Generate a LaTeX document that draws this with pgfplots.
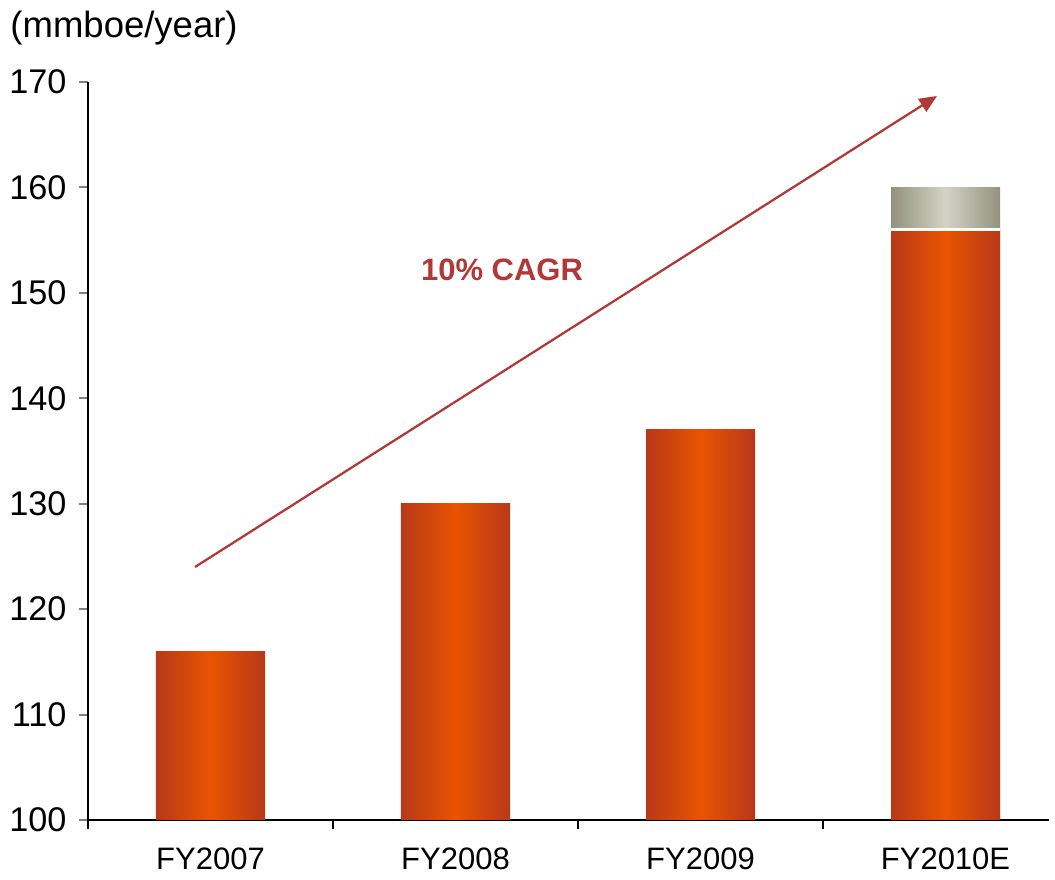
\documentclass[border=0pt]{standalone}
\usepackage{fontspec}
\setmainfont{Liberation Sans}
\usepackage{pgfplots}
\pgfplotsset{compat=1.18}
\usetikzlibrary{arrows.meta}

\definecolor{barEdge}{RGB}{184,56,26}
\definecolor{barMid}{RGB}{232,84,0}
\definecolor{greyEdge}{RGB}{146,146,126}
\definecolor{greyMid}{RGB}{212,212,198}
\definecolor{cagrRed}{RGB}{178,55,55}

\newcommand{\chartfont}{\fontsize{12.4pt}{14pt}\selectfont}

\begin{document}
\begin{tikzpicture}
\begin{axis}[
  scale only axis,
  width=384.4pt, height=295.2pt,
  xmin=-0.5, xmax=3.4224,
  ymin=100, ymax=170,
  ytick={100,110,...,170},
  xtick={0,1,2,3},
  xticklabels={FY2007,FY2008,FY2009,FY2010E},
  xtick style={draw=none},
  extra x ticks={-0.5,0.5,1.5,2.5},
  extra x tick labels={},
  extra x tick style={xtick style={draw=black, line width=0.8pt}},
  axis x line*=bottom,
  axis y line*=left,
  axis line style={line width=0.8pt, -},
  ytick style={line width=0.8pt},
  tick align=outside,
  major tick length=3.6pt,
  xticklabel style={font=\chartfont, yshift=-4pt},
  yticklabel style={font=\fontsize{13.7pt}{15pt}\selectfont, xshift=-1.5pt},
  /pgf/number format/assume math mode=true,
  ybar, bar shift=0pt,
  bar width=0.445,
  clip=false,
  every axis plot/.append style={draw=none, left color=barEdge, right color=barEdge, middle color=barMid},
]
% grey top segment (156 -> 160), drawn first as a full bar
\addplot[left color=greyEdge, right color=greyEdge, middle color=greyMid] coordinates {(3,160)};
\addplot coordinates {(0,116)};
\addplot coordinates {(1,130)};
\addplot coordinates {(2,137)};
\addplot coordinates {(3,156)};
\addplot[sharp plot, draw=white, line width=0.9pt, shading=none, fill=none] coordinates {(2.7775,156) (3.2225,156)};

\draw[cagrRed, line width=0.9pt, -{Triangle[length=7pt, width=6pt]}]
  (axis cs:-0.063,124.0) -- (axis cs:2.965,168.67);
\node[text=cagrRed, font=\chartfont\bfseries] at (axis cs:1.19,152.2) {10\% CAGR};
\node[anchor=base west, font=\fontsize{14.6pt}{17pt}\selectfont, inner sep=0pt]
  at ([xshift=-31.2pt, yshift=17.6pt]rel axis cs:0,1) {(mmboe/year)};
\coordinate (bl) at (rel axis cs:0,0);
\end{axis}
\pgfresetboundingbox
\path ([xshift=-35.2pt, yshift=-24pt]bl) rectangle ([xshift=386.8pt, yshift=328pt]bl);
\end{tikzpicture}
\end{document}
